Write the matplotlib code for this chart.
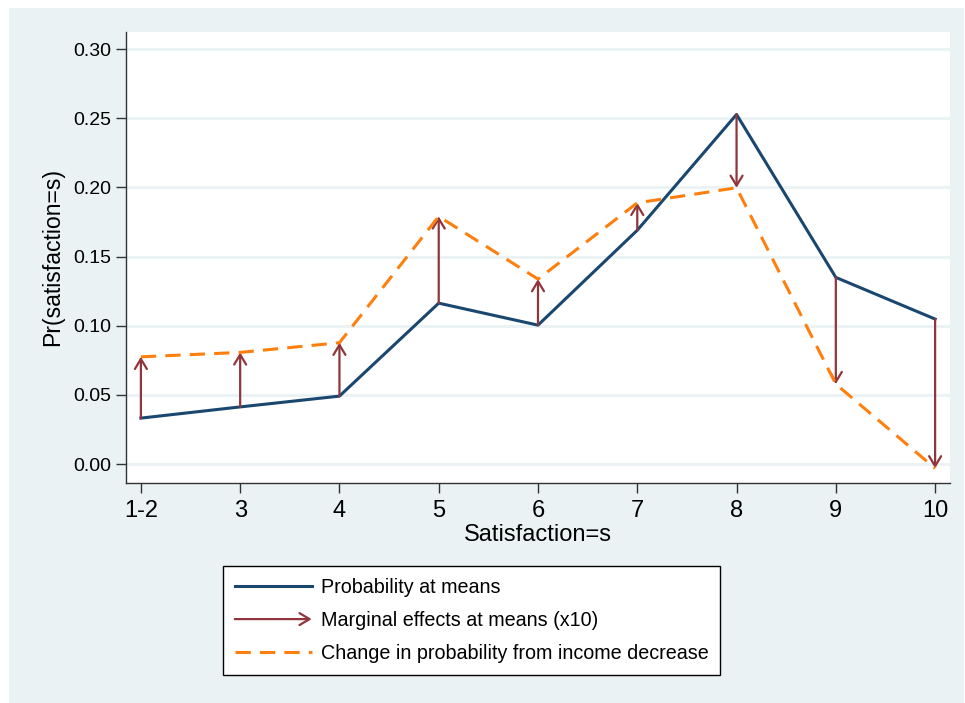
import matplotlib.pyplot as plt
from matplotlib.patches import Rectangle, FancyArrowPatch
from matplotlib.lines import Line2D

plt.rcParams["font.family"] = ["Liberation Sans", "DejaVu Sans"]

categories = ["1-2", "3", "4", "5", "6", "7", "8", "9", "10"]
prob_means = [0.0332, 0.0413, 0.0491, 0.1163, 0.1004, 0.1690, 0.2527, 0.1349, 0.1048]
prob_decrease = [0.0775, 0.0807, 0.0877, 0.1790, 0.1337, 0.1888, 0.1997, 0.0578, -0.0031]
y_ticks = [0.00, 0.05, 0.10, 0.15, 0.20, 0.25, 0.30]

navy = "#1A476F"
maroon = "#90353B"
orange = "#FF7F0E"
bg = "#EAF2F3"
head = "->,head_length=0.6,head_width=0.36"

fig = plt.figure(figsize=[9.65, 7.03], dpi=100, facecolor="white")
fig.patches.append(Rectangle((9 / 965, 0), 955 / 965, 695 / 703,
                             transform=fig.transFigure, facecolor=bg,
                             edgecolor="none", zorder=-10))

ax = fig.add_axes([126 / 965, 220 / 703, 824 / 965, 451 / 703])
ax.set_facecolor("white")

x = list(range(len(categories)))
for i in x:
    ax.annotate("", xy=(i, prob_decrease[i]), xytext=(i, prob_means[i]),
                arrowprops=dict(arrowstyle=head, mutation_scale=12,
                                color=maroon, lw=1.6, shrinkA=0, shrinkB=0),
                zorder=3)
ax.plot(x, prob_means, color=navy, lw=2.2, zorder=2)
ax.plot(x, prob_decrease, color=orange, lw=2.2, dashes=(5, 3), zorder=4)

ax.set_xlim(-0.15, 8.15)
ax.set_ylim(-0.0137, 0.3123)
ax.set_xticks(x)
ax.set_xticklabels(categories)
ax.set_yticks(y_ticks)
ax.set_yticklabels([f"{v:.2f}" for v in y_ticks])
ax.yaxis.grid(True, color=bg, lw=2.0)
ax.set_axisbelow(True)
for s in ["top", "right"]:
    ax.spines[s].set_visible(False)
for s in ["left", "bottom"]:
    ax.spines[s].set_color("#333333")
    ax.spines[s].set_linewidth(1.0)
ax.tick_params(axis="both", length=7.5, width=1.0, color="#333333",
               labelcolor="black")
ax.tick_params(axis="x", labelsize=17, pad=5)
ax.tick_params(axis="y", labelsize=14, pad=3)
ax.set_xlabel("Satisfaction=s", fontsize=17, labelpad=1)
ax.set_ylabel("Pr(satisfaction=s)", fontsize=16.6, labelpad=7)

handles = [
    Line2D([], [], color=navy, lw=2.2),
    Line2D([], [], color=maroon, lw=1.6),
    Line2D([], [], color=orange, lw=2.2, dashes=(5, 3)),
]
labels = ["Probability at means", "Marginal effects at means (x10)",
          "Change in probability from income decrease"]
leg = fig.legend(handles, labels, loc="center",
                 bbox_to_anchor=(471.5 / 965, 1 - 620.5 / 703),
                 fontsize=14.2, frameon=True, fancybox=False, framealpha=1,
                 facecolor="white", edgecolor="black", handlelength=3.9,
                 handletextpad=0.45, labelspacing=0.7, borderpad=0.6)
leg.get_frame().set_linewidth(1.0)

# swap the plain legend line for an arrow like the ones in the plot
fig.canvas.draw()
line = leg.get_lines()[1]
tr = line.get_transform()
p0 = tr.transform((line.get_xdata()[0], line.get_ydata()[0]))
p1 = tr.transform((line.get_xdata()[-1], line.get_ydata()[-1]))
inv = fig.transFigure.inverted()
fig.patches.append(FancyArrowPatch(
    inv.transform(p0), inv.transform(p1), transform=fig.transFigure,
    arrowstyle=head, mutation_scale=12, color=maroon, lw=1.6,
    shrinkA=0, shrinkB=0, zorder=10))
line.set_visible(False)

plt.savefig("out.png", dpi=100, facecolor=fig.get_facecolor())
